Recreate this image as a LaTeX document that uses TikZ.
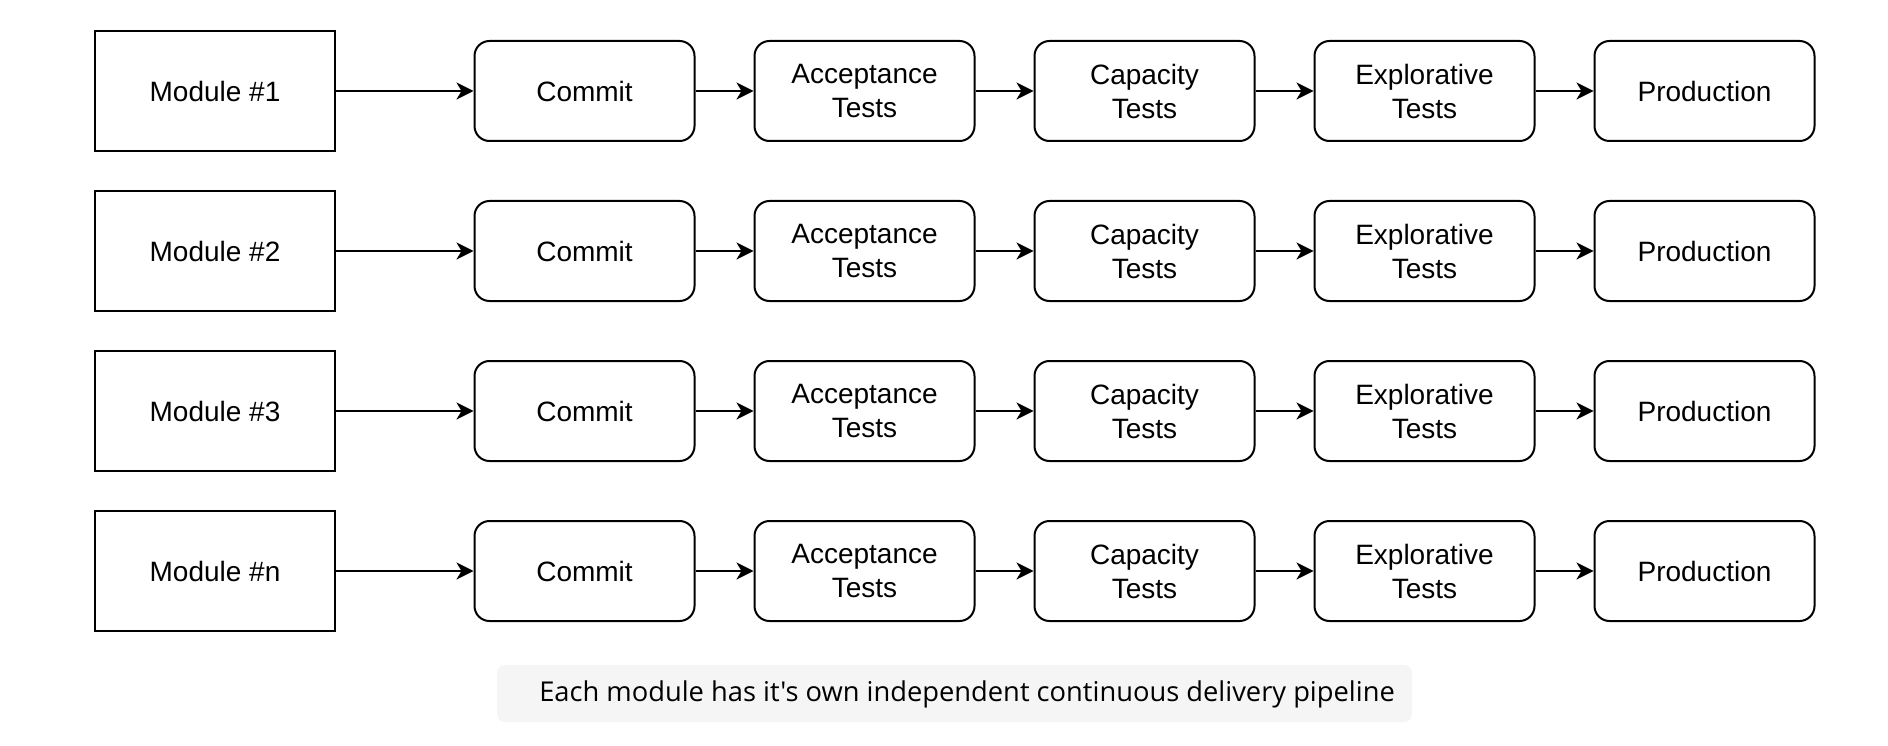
\documentclass[tikz,border=0pt]{standalone}
\usepackage{fontspec}
\setmainfont{Liberation Sans}
\newfontfamily\capfont{Open Sans}
\usetikzlibrary{arrows.meta}
\definecolor{capfill}{HTML}{F5F5F5}
\tikzset{
  modbox/.style={draw, line width=2pt, minimum width=240pt, minimum height=120pt, inner sep=0pt, font=\fontsize{28}{34}\selectfont, align=center},
  stagebox/.style={draw, line width=2pt, rounded corners=15pt, minimum width=220pt, minimum height=100pt, inner sep=0pt, font=\fontsize{28}{34}\selectfont, align=center},
  flow/.style={line width=2pt, -{Stealth[length=17pt,width=17pt,inset=5pt]}},
  capbox/.style={fill=capfill, rounded corners=8pt, minimum width=915pt, minimum height=57pt, inner sep=0pt, text height=20pt, text depth=4pt, font=\capfont\fontsize{27.3}{30}\selectfont}
}
\begin{document}
\begin{tikzpicture}[x=1pt,y=-1pt]
\useasboundingbox (0,0) rectangle (1888,746);
\foreach \r/\lab/\y in {1/1/91, 2/2/251, 3/3/411, 4/n/571} {
  \node[modbox] (m\r) at (215,\y) {Module \#\lab};
  \node[stagebox] (c\r) at (584.5,\y) {Commit};
  \node[stagebox] (a\r) at (864.5,\y) {Acceptance\\Tests};
  \node[stagebox] (k\r) at (1144.5,\y) {Capacity\\Tests};
  \node[stagebox] (e\r) at (1424.5,\y) {Explorative\\Tests};
  \node[stagebox] (p\r) at (1704.5,\y) {Production};
  \draw[flow] (m\r) -- (c\r);
  \draw[flow] (c\r) -- (a\r);
  \draw[flow] (a\r) -- (k\r);
  \draw[flow] (k\r) -- (e\r);
  \draw[flow] (e\r) -- (p\r);
}
\node[capbox] (cap) at (954.5,693.5) {\hspace*{25pt}Each module has it's own independent continuous delivery pipeline};
\end{tikzpicture}
\end{document}
